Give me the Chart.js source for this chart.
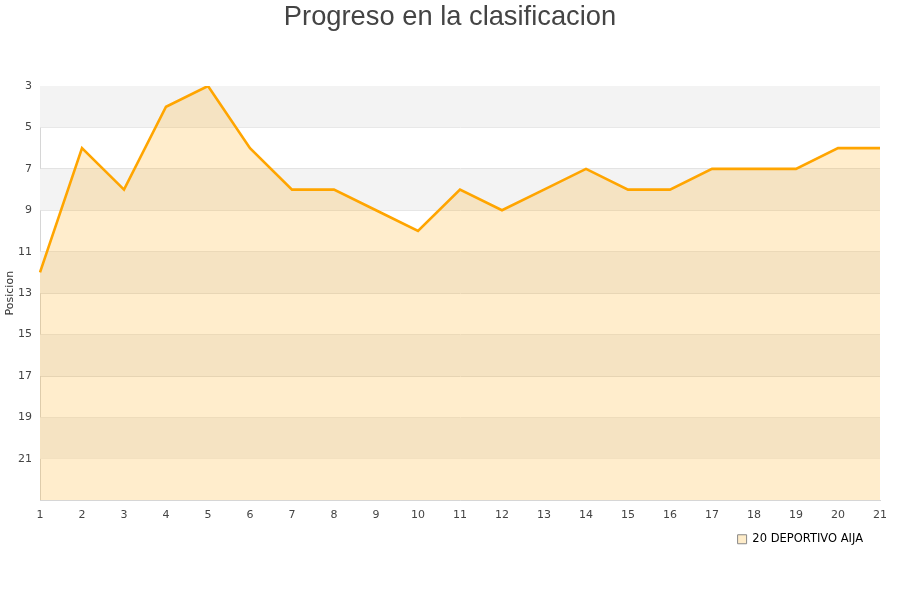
<!DOCTYPE html>
<html>
<head>
<meta charset="utf-8">
<script src="https://cdn.jsdelivr.net/npm/chart.js@4.4.1/dist/chart.umd.min.js"></script>
<style>
  html, body { margin: 0; padding: 0; background: #fff; }
  #wrap { width: 900px; height: 600px; position: relative; }
  #titulo {
    position: absolute; left: 0; top: 0; width: 900px;
    text-align: center; font-family: 'Liberation Sans', Arial, sans-serif;
    font-size: 27.3px; line-height: 32px; color: #444;
  }
</style>
</head>
<body>
<div id="wrap">
  <canvas id="chart"></canvas>
  <div id="titulo">Progreso en la clasificacion</div>
</div>
<script>
// Jornadas and positions
const jornadas = ['1','2','3','4','5','6','7','8','9','10','11','12','13','14','15','16','17','18','19','20','21'];
const posiciones = [12, 6, 8, 4, 3, 6, 8, 8, 9, 10, 8, 9, 8, 7, 8, 8, 7, 7, 7, 6, 6];
const equipo = '20 DEPORTIVO AIJA';
const yMin = 3;
const yMax = 23;

// alternating grey bands behind the plot
const bandsPlugin = {
  id: 'bands',
  beforeDatasetsDraw(chart) {
    const { ctx, chartArea, scales } = chart;
    const y = scales.y;
    ctx.save();
    let grey = true;
    for (let v = yMin; v < yMax; v += 2) {
      if (grey) {
        const top = y.getPixelForValue(v);
        const bot = y.getPixelForValue(v + 2);
        ctx.fillStyle = '#f3f3f3';
        ctx.fillRect(chartArea.left, top, chartArea.right - chartArea.left, bot - top);
      }
      grey = !grey;
    }
    ctx.restore();
  }
};

// nudge the legend a little left of the plot's right edge
const legendShift = {
  id: 'legendShift',
  afterLayout(chart) {
    const l = chart.legend;
    if (!l) return;
    l.left -= 13;
    l.right -= 13;
  }
};

new Chart(document.getElementById('chart'), {
  type: 'line',
  data: {
    labels: jornadas,
    datasets: [{
      label: equipo,
      data: posiciones,
      borderColor: '#ffa500',
      backgroundColor: 'rgba(255,165,0,0.2)',
      borderWidth: 2.6,
      pointRadius: 0,
      tension: 0,
      fill: 'start'
    }]
  },
  options: {
    responsive: true,
    maintainAspectRatio: false,
    animation: false,
    layout: { padding: { left: 0, right: 20, top: 86, bottom: 45 } },
    plugins: {
      title: { display: false },
      legend: {
        position: 'bottom',
        align: 'end',
        labels: {
          color: '#000',
          font: { family: 'DejaVu Sans', size: 11.5 },
          boxWidth: 9,
          boxHeight: 9,
          padding: 4,
          generateLabels(chart) {
            return [{
              text: equipo,
              fillStyle: '#feecc9',
              strokeStyle: '#888',
              lineWidth: 1,
              fontColor: '#000',
              datasetIndex: 0
            }];
          }
        }
      },
      tooltip: { enabled: false }
    },
    scales: {
      x: {
        offset: false,
        grid: { display: false, drawTicks: false },
        border: { color: '#d6d6d6', width: 1 },
        ticks: {
          color: '#444',
          font: { family: 'DejaVu Sans', size: 11 },
          padding: 8,
          maxRotation: 0,
          autoSkip: false
        }
      },
      y: {
        reverse: true,
        min: yMin,
        max: yMax,
        afterFit(s) { s.width = 40; },
        title: {
          display: true,
          text: 'Posicion',
          color: '#333',
          font: { family: 'DejaVu Sans', size: 11 },
          padding: { top: 4, bottom: 0 }
        },
        grid: { color: '#e0e0e0', drawTicks: false },
        border: { color: '#d6d6d6', width: 1 },
        ticks: {
          stepSize: 2,
          color: '#444',
          font: { family: 'DejaVu Sans', size: 11 },
          padding: 8,
          callback: v => (v === yMax ? '' : v)
        }
      }
    }
  },
  plugins: [bandsPlugin, legendShift]
});
</script>
</body>
</html>
